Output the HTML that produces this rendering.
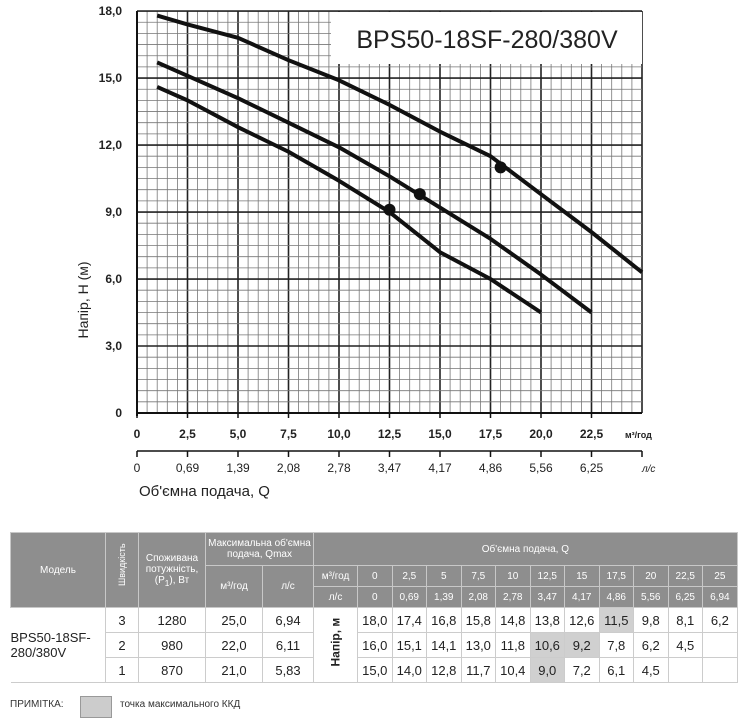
<!DOCTYPE html>
<html><head><meta charset="utf-8"><style>
body{margin:0;background:#fff;font-family:"Liberation Sans",sans-serif;}
svg{position:absolute;left:0;top:0}
</style></head><body>
<svg width="747" height="717" id="chart">
<g id="grid"></g><g id="curves"></g><g id="axes"></g>
<rect x="331" y="12" width="311" height="52" fill="#fff"/>
<text x="487" y="48" font-size="25" text-anchor="middle" fill="#222">BPS50-18SF-280/380V</text>
<text transform="translate(88,300) rotate(-90)" font-size="14" text-anchor="middle" fill="#222">Напір, Н (м)</text>
<text x="139" y="496" font-size="15" fill="#222">Об'ємна  подача, Q</text>
<text x="625" y="438" font-size="9" font-weight="bold" fill="#222">м³/год</text>
<text x="642" y="472" font-size="10" font-style="italic" fill="#222">л/с</text>
</svg>
<script>
const qTicks=["0","2,5","5,0","7,5","10,0","12,5","15,0","17,5","20,0","22,5"];
const lsTicks=["0","0,69","1,39","2,08","2,78","3,47","4,17","4,86","5,56","6,25"];
const hTicks=["0","3,0","6,0","9,0","12,0","15,0","18,0"];
const q3=[1,2.5,5,7.5,10,12.5,15,17.5,20,22.5,25];
const h3=[17.8,17.4,16.8,15.8,14.9,13.8,12.6,11.5,9.8,8.1,6.3];
const q2=[1,2.5,5,7.5,10,12.5,15,17.5,20,22.5];
const h2=[15.7,15.1,14.1,13.0,11.9,10.6,9.2,7.8,6.2,4.5];
const q1=[1,2.5,5,7.5,10,12.5,15,17.5,20];
const h1=[14.6,14.0,12.8,11.7,10.4,9.0,7.2,6.0,4.5];
const dotQ=[18,14,12.5];
const dotH=[11.0,9.8,9.1];
const X=q=>137+q*20.2, Y=h=>413-h*22.33;
const NS="http://www.w3.org/2000/svg";
function mk(t,a,p){const e=document.createElementNS(NS,t);for(const k in a)e.setAttribute(k,a[k]);p.appendChild(e);return e;}
const g=document.getElementById('grid'),c=document.getElementById('curves'),ax=document.getElementById('axes');
for(let i=0;i<=50;i++){const q=i*0.5;const major=i%5==0;
 const l=mk('line',{x1:X(q),x2:X(q),y1:Y(18),y2:Y(0),stroke:major?'#222':'#777','stroke-width':major?1.6:0.8},g);
 }
for(let i=0;i<=36;i++){const h=i*0.5;const major=i%6==0;
 const l=mk('line',{x1:X(0),x2:X(25),y1:Y(h),y2:Y(h),stroke:major?'#222':'#777','stroke-width':major?1.6:0.8},g);
 }
function curve(qs,hs,name){let d='';qs.forEach((q,i)=>{d+=(i?'L':'M')+X(q)+','+Y(hs[i]);});
 const p=mk('path',{d:d,fill:'none',stroke:'#111','stroke-width':4,'stroke-linejoin':'round'},c);
 }
curve(q3,h3,'curve-speed-3');curve(q2,h2,'curve-speed-2');curve(q1,h1,'curve-speed-1');
dotQ.forEach((q,i)=>{const e=mk('circle',{cx:X(q),cy:Y(dotH[i]),r:6,fill:'#111'},c);
 });
const a1=mk('line',{x1:X(0),x2:X(25),y1:Y(0),y2:Y(0),stroke:'#111','stroke-width':2},ax);

const a2=mk('line',{x1:X(0),x2:X(0),y1:Y(18),y2:Y(0)+3,stroke:'#111','stroke-width':2},ax);

const a3=mk('line',{x1:X(0),x2:X(25),y1:451,y2:451,stroke:'#111','stroke-width':1.5},ax);

qTicks.forEach((t,i)=>{const q=i*2.5;
 const tk=mk('line',{x1:X(q),x2:X(q),y1:Y(0),y2:Y(0)+5,stroke:'#111','stroke-width':1.5},ax);
 
 const tx=mk('text',{x:X(q),y:438,'font-size':12,'font-weight':'bold','text-anchor':'middle',fill:'#222'},ax);tx.textContent=t;
 });
lsTicks.forEach((t,i)=>{const q=i*2.5;
 const tk=mk('line',{x1:X(q),x2:X(q),y1:451,y2:457,stroke:'#111','stroke-width':1.5},ax);
 
 const tx=mk('text',{x:X(q),y:472,'font-size':12,'text-anchor':'middle',fill:'#222'},ax);tx.textContent=t;
 });
const tkE=mk('line',{x1:X(25),x2:X(25),y1:451,y2:457,stroke:'#111','stroke-width':1.5},ax);

hTicks.forEach((t,i)=>{const h=i*3;
 const tx=mk('text',{x:122,y:Y(h)+4,'font-size':12,'font-weight':'bold','text-anchor':'end',fill:'#222'},ax);tx.textContent=t;
 });
</script>
<style>
table{position:absolute;left:10px;top:532px;border-collapse:collapse;font-family:"Liberation Sans",sans-serif;width:727px;table-layout:fixed}
td{border:1px solid #ccc;text-align:center;padding:0;font-size:13px;color:#222;height:24px}
.h td{background:#8e8e8e;color:#fff;font-size:10px;border-color:#c8c8c8;height:20px}
.hl{background:#d0d0d0}
</style>
<table>
<colgroup><col style="width:95px"><col style="width:33px"><col style="width:67px"><col style="width:57px"><col style="width:51px"><col style="width:44px"><col span="11" style="width:34.5px"></colgroup>
<tr class="h"><td rowspan="3">Модель</td><td rowspan="3" style="font-size:9px"><div style="transform:rotate(-90deg)">Швидкість</div></td><td rowspan="3">Споживана потужність, (P<sub>1</sub>), Вт</td><td colspan="2" style="height:32px">Максимальна об'ємна подача, Qmax</td><td colspan="12">Об'ємна подача, Q</td></tr>
<tr class="h"><td rowspan="2">м³/год</td><td rowspan="2">л/с</td><td>м³/год</td><td>0</td><td>2,5</td><td>5</td><td>7,5</td><td>10</td><td>12,5</td><td>15</td><td>17,5</td><td>20</td><td>22,5</td><td>25</td></tr>
<tr class="h"><td>л/с</td><td>0</td><td>0,69</td><td>1,39</td><td>2,08</td><td>2,78</td><td>3,47</td><td>4,17</td><td>4,86</td><td>5,56</td><td>6,25</td><td>6,94</td></tr>
<tr><td rowspan="3" style="text-align:left;font-size:13px;border-left:none">BPS50-18SF-<br>280/380V</td><td>3</td><td>1280</td><td>25,0</td><td>6,94</td><td rowspan="3" style="font-weight:bold;font-size:12px"><div style="transform:rotate(-90deg);white-space:nowrap">Напір, м</div></td><td>18,0</td><td>17,4</td><td>16,8</td><td>15,8</td><td>14,8</td><td>13,8</td><td>12,6</td><td class="hl">11,5</td><td>9,8</td><td>8,1</td><td>6,2</td></tr>
<tr><td>2</td><td>980</td><td>22,0</td><td>6,11</td><td>16,0</td><td>15,1</td><td>14,1</td><td>13,0</td><td>11,8</td><td class="hl">10,6</td><td class="hl">9,2</td><td>7,8</td><td>6,2</td><td>4,5</td><td></td></tr>
<tr><td>1</td><td>870</td><td>21,0</td><td>5,83</td><td>15,0</td><td>14,0</td><td>12,8</td><td>11,7</td><td>10,4</td><td class="hl">9,0</td><td>7,2</td><td>6,1</td><td>4,5</td><td></td><td></td></tr>
</table>
<div style="position:absolute;left:10px;top:699px;font-size:10px;color:#333">ПРИМІТКА:</div>
<div style="position:absolute;left:80px;top:696px;width:30px;height:20px;background:#ccc;border:1px solid #999"></div>
<div style="position:absolute;left:120px;top:699px;font-size:10px;color:#333">точка максимального ККД</div>
</body></html>
